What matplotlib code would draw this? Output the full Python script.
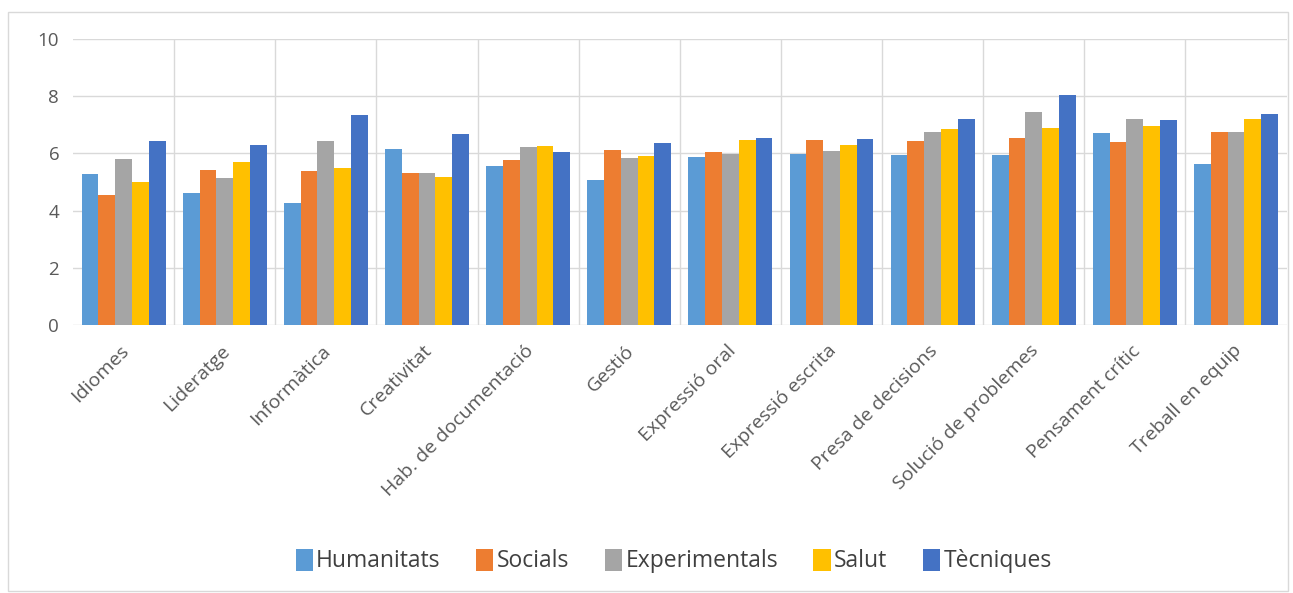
import matplotlib.pyplot as plt
import numpy as np
from matplotlib.patches import Rectangle
from matplotlib.transforms import ScaledTranslation

plt.rcParams['font.family'] = ['Open Sans', 'DejaVu Sans']

categories = ["Idiomes", "Lideratge", "Informàtica", "Creativitat",
              "Hab. de documentació", "Gestió", "Expressió oral",
              "Expressió escrita", "Presa de decisions",
              "Solució de problemes", "Pensament crític", "Treball en equip"]

humanitats = [5.27, 4.62, 4.28, 6.15, 5.57, 5.08, 5.89, 5.99, 5.93, 5.93, 6.72, 5.63]
socials = [4.56, 5.43, 5.38, 5.30, 5.76, 6.13, 6.04, 6.48, 6.43, 6.53, 6.41, 6.75]
experimentals = [5.82, 5.15, 6.45, 5.30, 6.21, 5.85, 5.97, 6.08, 6.75, 7.44, 7.21, 6.75]
salut = [4.99, 5.70, 5.50, 5.17, 6.27, 5.91, 6.48, 6.31, 6.85, 6.89, 6.96, 7.21]
tecniques = [6.45, 6.31, 7.33, 6.69, 6.06, 6.38, 6.53, 6.49, 7.20, 8.04, 7.16, 7.37]

series = [("Humanitats", humanitats, "#5B9BD5"),
          ("Socials", socials, "#ED7D31"),
          ("Experimentals", experimentals, "#A5A5A5"),
          ("Salut", salut, "#FFC000"),
          ("Tècniques", tecniques, "#4472C4")]

fig = plt.figure(figsize=(12.93, 5.93), dpi=100)
ax = fig.add_axes([0.0565, 0.452, 0.9385, 0.482])

# chart border like in the spreadsheet export
fig.patches.append(Rectangle((0.006, 0.004), 0.99, 0.975, transform=fig.transFigure,
                             fill=False, edgecolor="#d9d9d9", linewidth=1))

x = np.arange(len(categories))
w = 0.166
for i, (name, vals, col) in enumerate(series):
    ax.bar(x + (i - 2) * w, vals, w, color=col, label=name, zorder=3)

ax.set_xlim(-0.5, len(categories) - 0.5)
ax.set_ylim(0, 10)
ax.set_yticks(range(0, 11, 2))
ax.grid(axis="y", color="#d9d9d9", linewidth=1, zorder=0)
for b in x[:-1] + 0.5:
    ax.axvline(b, color="#d9d9d9", linewidth=1, zorder=0)
for s in ax.spines.values():
    s.set_visible(False)

ax.set_xticks(x)
ax.set_xticklabels(categories, rotation=45, ha="right", rotation_mode="anchor",
                   fontsize=14, color="#595959")
ax.tick_params(axis="both", length=0, colors="#595959")
ax.tick_params(axis="y", labelsize=13.5, pad=10)
ax.tick_params(axis="x", pad=12)
# nudge rotated labels a bit to the left
shift = ScaledTranslation(-4 / 100, 0, fig.dpi_scale_trans)
for lab in ax.get_xticklabels():
    lab.set_transform(lab.get_transform() + shift)

fig.legend(loc="center", bbox_to_anchor=(0.521, 0.054), ncol=5, frameon=False,
           fontsize=16.5, handlelength=0.75, handleheight=1.1, handletextpad=0.15,
           columnspacing=1.55, labelcolor="#404040")

fig.savefig("out.png", dpi=100)
